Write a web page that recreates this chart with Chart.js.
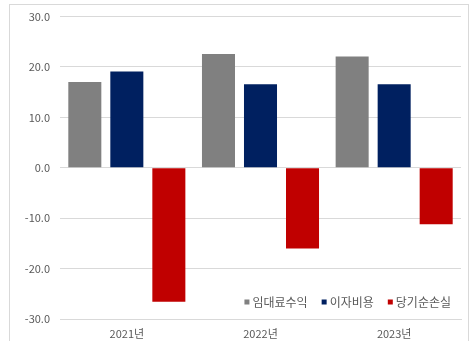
<!DOCTYPE html>
<html>
<head>
<meta charset="utf-8">
<script src="https://cdn.jsdelivr.net/npm/chart.js@4/dist/chart.umd.min.js"></script>
<style>
  html, body { margin: 0; padding: 0; background: #fff; }
  #wrap { width: 472px; height: 341px; position: relative; }
</style>
</head>
<body>
<div id="wrap"><canvas id="chart"></canvas></div>
<script>
'use strict';

const years = ['2021년', '2022년', '2023년'];
const rentIncome = [17.0, 22.6, 22.1];     // 임대료수익
const interestCost = [19.1, 16.6, 16.6];   // 이자비용
const netLoss = [-26.6, -16.0, -11.2];     // 당기순손실
const yTicks = [-30, -20, -10, 0, 10, 20, 30];

const FONT = '"Noto Sans CJK KR", "Noto Sans", sans-serif';
const TEXT_COLOR = '#595959';

// frame round the whole chart
const framePlugin = {
    id: 'frame',
    beforeDraw: function(chart){
        const ctx = chart.ctx;
        ctx.save();
        ctx.strokeStyle = '#d9d9d9';
        ctx.lineWidth = 1;
        ctx.strokeRect(9.5, 4.5, 459, 345);
        ctx.restore();
    }
};

// legend drawn inside the plot, bottom right
const insideLegend = {
    id: 'insideLegend',
    afterDraw: function(chart){
        const ctx = chart.ctx;
        ctx.save();
        ctx.font = '12px ' + FONT;
        ctx.textBaseline = 'middle';
        const y = 302;
        let x = 451;
        const sets = chart.data.datasets.slice().reverse();
        for( let ds of sets ){
            const w = ctx.measureText(ds.label).width;
            x -= w;
            ctx.fillStyle = TEXT_COLOR;
            ctx.fillText(ds.label, x, y);
            x -= 8;
            ctx.fillStyle = ds.backgroundColor;
            ctx.fillRect(x, y - 2.5, 5, 5);
            x -= 14;
        }
        ctx.restore();
    }
};

new Chart(document.getElementById('chart'), {
    type: 'bar',
    data: {
        labels: years,
        datasets: [
            { label: '임대료수익', data: rentIncome, backgroundColor: '#808080' },
            { label: '이자비용', data: interestCost, backgroundColor: '#002060' },
            { label: '당기순손실', data: netLoss, backgroundColor: '#C00000' },
        ],
    },
    options: {
        responsive: true,
        maintainAspectRatio: false,
        animation: false,
        layout: { padding: { left: 0, right: 11, top: 9, bottom: 0 } },
        datasets: {
            bar: { categoryPercentage: 0.943, barPercentage: 0.786 },
        },
        plugins: {
            legend: { display: false },
            tooltip: { enabled: false },
        },
        scales: {
            x: {
                grid: { display: false, drawTicks: false },
                border: { color: '#d9d9d9' },
                ticks: { color: TEXT_COLOR, font: { family: FONT, size: 11 }, padding: 8 },
                afterFit: function(scale){ scale.height = 22; },
            },
            y: {
                min: -30,
                max: 30,
                afterBuildTicks: function(scale){ scale.ticks = yTicks.map(v => ({ value: v })); },
                grid: { color: '#d9d9d9', drawTicks: false },
                border: { display: false },
                ticks: {
                    color: TEXT_COLOR,
                    font: { family: FONT, size: 11 },
                    padding: 10,
                    callback: function(v){ return v.toFixed(1); },
                },
                afterFit: function(scale){ scale.width = 60; },
            },
        },
    },
    plugins: [framePlugin, insideLegend],
});
</script>
</body>
</html>
